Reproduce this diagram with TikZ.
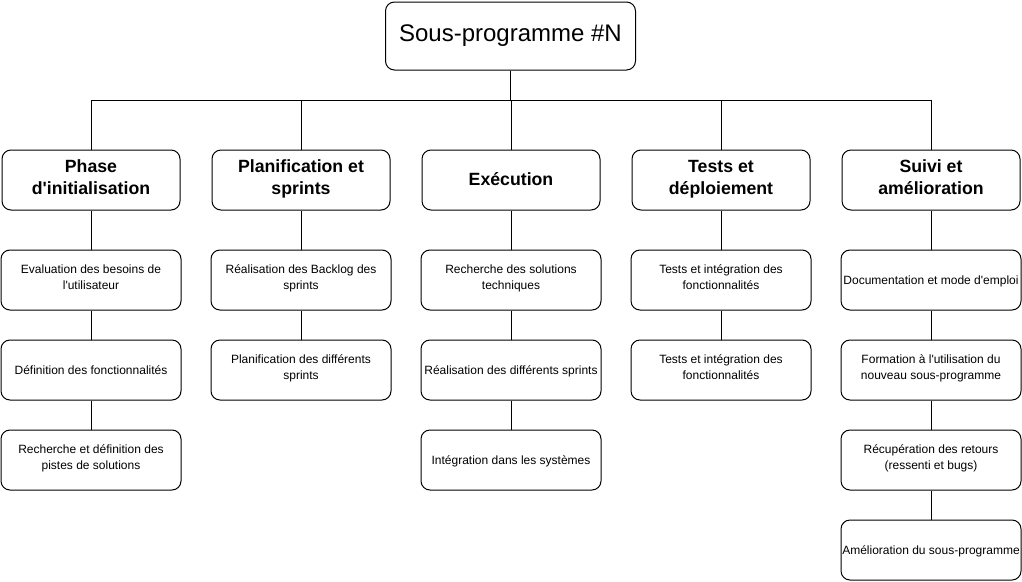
\documentclass[tikz,border=0pt]{standalone}
\usepackage{fontspec}
\setmainfont{Liberation Sans}[Ligatures=TeXOff]
\begin{document}
\begin{tikzpicture}[x=1pt,y=-1pt,
  box/.style={draw=black,line width=1pt,rounded corners=9pt,fill=white,align=center,inner sep=0pt},
  rootbox/.style={box,minimum width=250pt,minimum height=68pt,font=\fontsize{24}{28}\selectfont,
    execute at begin node={\strut},execute at end node={\strut}},
  phasebox/.style={box,minimum width=178pt,minimum height=60pt,font=\fontsize{17.7}{22}\selectfont\bfseries,
    execute at begin node={\rule{0pt}{17.5pt}},execute at end node={\rule[-6pt]{0pt}{0pt}}},
  taskbox/.style={box,minimum width=180pt,minimum height=60pt,font=\fontsize{12}{16}\selectfont,
    execute at begin node={\rule{0pt}{13.6pt}},execute at end node={\rule[-5pt]{0pt}{0pt}}},
  link/.style={draw=black,line width=1pt}]
\useasboundingbox (0,0) rectangle (1022,581);
\fill[white] (0,0) rectangle (1022,581);
\node[rootbox] (root) at (510.5,36) {Sous-programme \#N};
\coordinate (bus) at (0,100);
\node[phasebox] (p1) at (91,180) {Phase\\d'initialisation};
\node[phasebox] (p2) at (301,180) {Planification et\\sprints};
\node[phasebox] (p3) at (511,180) {Exécution};
\node[phasebox] (p4) at (721,180) {Tests et\\déploiement};
\node[phasebox] (p5) at (931,180) {Suivi et\\amélioration};
\node[taskbox] (a1) at (91,280) {Evaluation des besoins de\\l'utilisateur};
\node[taskbox] (a2) at (91,370) {Définition des fonctionnalités};
\node[taskbox] (a3) at (91,460) {Recherche et définition des\\pistes de solutions};
\node[taskbox] (b1) at (301,280) {Réalisation des Backlog des\\sprints};
\node[taskbox] (b2) at (301,370) {Planification des différents\\sprints};
\node[taskbox] (c1) at (511,280) {Recherche des solutions\\techniques};
\node[taskbox] (c2) at (511,370) {Réalisation des différents sprints};
\node[taskbox] (c3) at (511,460) {Intégration dans les systèmes};
\node[taskbox] (d1) at (721,280) {Tests et intégration des\\fonctionnalités};
\node[taskbox] (d2) at (721,370) {Tests et intégration des\\fonctionnalités};
\node[taskbox] (e1) at (931,280) {Documentation et mode d'emploi};
\node[taskbox] (e2) at (931,370) {Formation à l'utilisation du\\nouveau sous-programme};
\node[taskbox] (e3) at (931,460) {Récupération des retours\\(ressenti et bugs)};
\node[taskbox] (e4) at (931,550) {Amélioration du sous-programme};
\foreach \p in {p1,p2,p3,p4,p5}
  \draw[link] (root.south) |- (\p.north |- bus) -- (\p.north);
\foreach \a/\b in {p1/a1,a1/a2,a2/a3,p2/b1,b1/b2,p3/c1,c1/c2,c2/c3,p4/d1,d1/d2,p5/e1,e1/e2,e2/e3,e3/e4}
  \draw[link] (\a.south) -- (\b.north);
\end{tikzpicture}
\end{document}
